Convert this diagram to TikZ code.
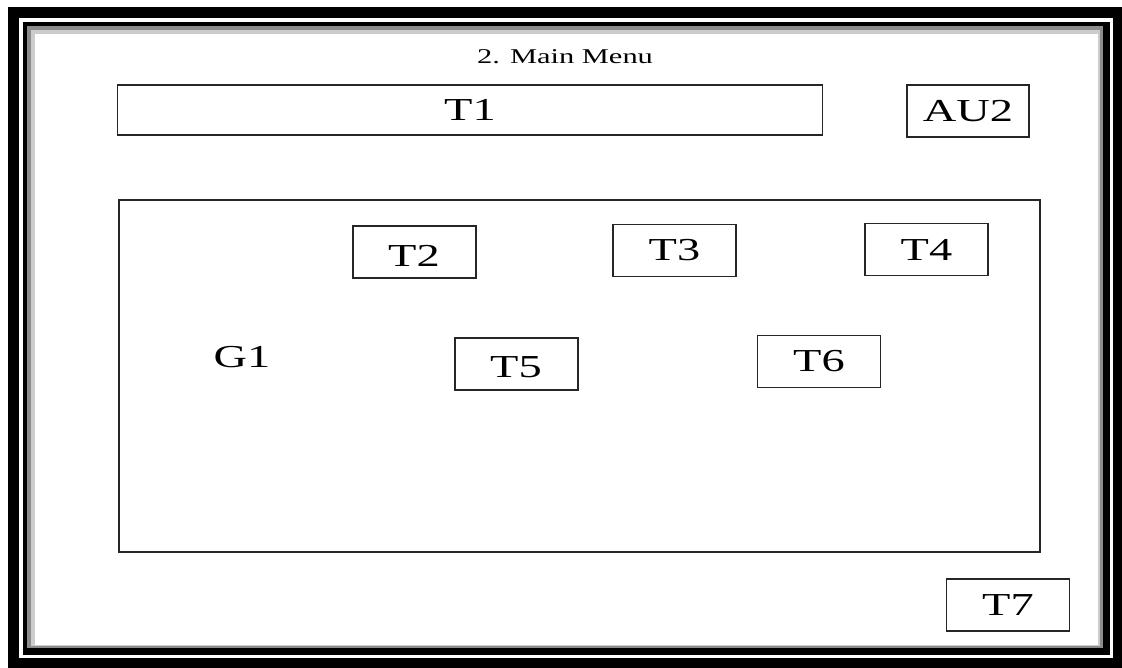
\documentclass[tikz,border=0pt]{standalone}
\usepackage{fontspec}
\setmainfont{Liberation Serif}
\newfontfamily\wideserif[FakeStretch=1.45]{Liberation Serif}
\usetikzlibrary{positioning}

\begin{document}
\begin{tikzpicture}[
  x=1pt, y=-1pt,
  box/.style={draw=black!85, line width=1.6pt, fill=white,
              inner sep=0pt, font=\wideserif\fontsize{32}{36}\selectfont},
  tbox/.style={box, minimum width=123pt, minimum height=52pt},
  lbl/.style={inner sep=0pt, font=\wideserif\fontsize{32}{36}\selectfont},
]
\useasboundingbox (0,0) rectangle (1122,668);

%% -- frame --------------------------------------------------------------------
\fill[black] (8,7) rectangle (1122,668);
\fill[white] (19,18) rectangle (1113,658);
\fill[black] (23,22) rectangle (1110,655);
\fill[black!45] (27,26) rectangle (1103,648);
\fill[black!20] (31,30) rectangle (1100,646);
\fill[white] (35,34) rectangle (1098,645);

%% -- header -------------------------------------------------------------------
\node[inner sep=0pt, font=\wideserif\fontsize{21}{24}\selectfont]
  (title) at (565,57) {2. Main Menu};
\node[box, minimum width=705pt, minimum height=50pt] (t1) at (470,110) {T1};
\node[box, minimum width=122pt, minimum height=52pt] (au2) at (968,111) {AU2};

%% -- group --------------------------------------------------------------------
\node[box, minimum width=921pt, minimum height=352pt] (g1) at (579.5,376) {};
\node[lbl] (g1lbl) at (242,357) {G1};

\node[tbox] (t2) at (414.5,252) {};
\node[lbl] at (414,256) {T2};
\node[tbox] (t3) at (674.5,250.5) {T3};
\node[tbox] (t4) at (926.5,249.5) {T4};
\node[tbox] (t5) at (516.5,364) {};
\node[lbl] at (516,367) {T5};
\node[tbox] (t6) at (819,361.5) {T6};

%% -- footer -------------------------------------------------------------------
\node[tbox] (t7) at (1008,605) {T7};

\end{tikzpicture}
\end{document}
